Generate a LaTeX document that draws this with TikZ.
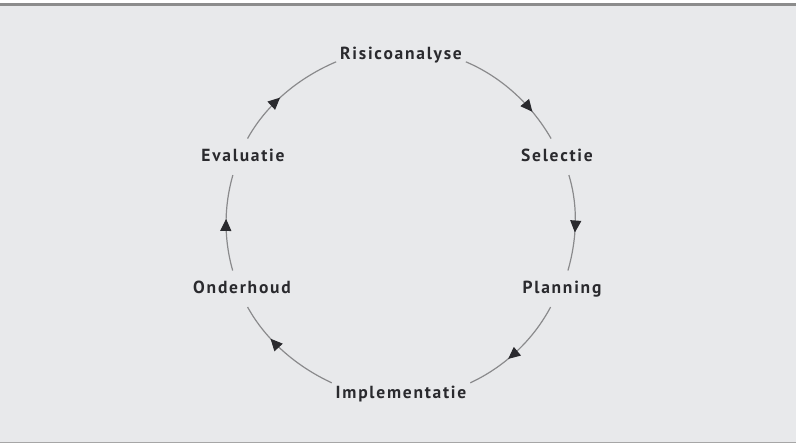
\documentclass[tikz,border=0pt]{standalone}
\usepackage{fontspec}
\setsansfont{PT Sans}[LetterSpace=10.0]
\usepackage{tikz}
\usetikzlibrary{arrows.meta, decorations.markings}
\definecolor{cyBg}{HTML}{E8E9EB}
\definecolor{cyRule}{HTML}{8C8C8C}
\definecolor{cyRuleLight}{HTML}{A6A6A6}
\definecolor{cyLine}{HTML}{8A8A8C}
\definecolor{cyInk}{HTML}{2A2A2E}

\begin{document}
\begin{tikzpicture}[
  x=1pt, y=1pt,
  phase/.style={font=\sffamily\bfseries\fontsize{17.5pt}{20pt}\selectfont, text=cyInk,
                text height=12pt, text depth=3.5pt, inner xsep=3pt, inner ysep=9.5pt,
                outer sep=1pt},
  flow/.style={draw=cyLine, line width=1.2pt, looseness=0.87, postaction={decorate},
               decoration={markings, mark=at position #1 with
                 {\arrow{Triangle[length=12pt, width=11pt, color=cyInk]}}}},
  flow/.default=0.5
]
\useasboundingbox (0,0) rectangle (796,444);
\fill[cyBg] (0,1) rectangle (796,439);
\draw[cyRule, line width=2.3pt] (0,439.5) -- (796,439.5);
\draw[cyRuleLight, line width=1pt] (0,1) -- (796,1);

\node[phase] (risk) at (401,389)   {Risicoanalyse};
\node[phase] (sel)  at (557,287.2) {Selectie};
\node[phase] (plan) at (562,155.2) {Planning};
\node[phase] (impl) at (401,50.2)  {Implementatie};
\node[phase] (ond)  at (242,155.2) {Onderhoud};
\node[phase] (eval) at (243,287.2) {Evaluatie};

\draw[flow=0.72] (risk.-6) to[out=-23, in=120] (sel.108);
\draw[flow=0.6] (sel.-57) to[out=-73, in=74] (plan.72);
\draw[flow=0.6] (plan.-122) to[out=-118, in=25] (impl.9);
\draw[flow=0.66] (impl.171) to[out=155, in=-61] (ond.-73);
\draw[flow=0.54] (ond.117) to[out=106, in=-106] (eval.-119);
\draw[flow=0.44] (eval.76) to[out=61, in=-157] (risk.186);
\end{tikzpicture}
\end{document}
